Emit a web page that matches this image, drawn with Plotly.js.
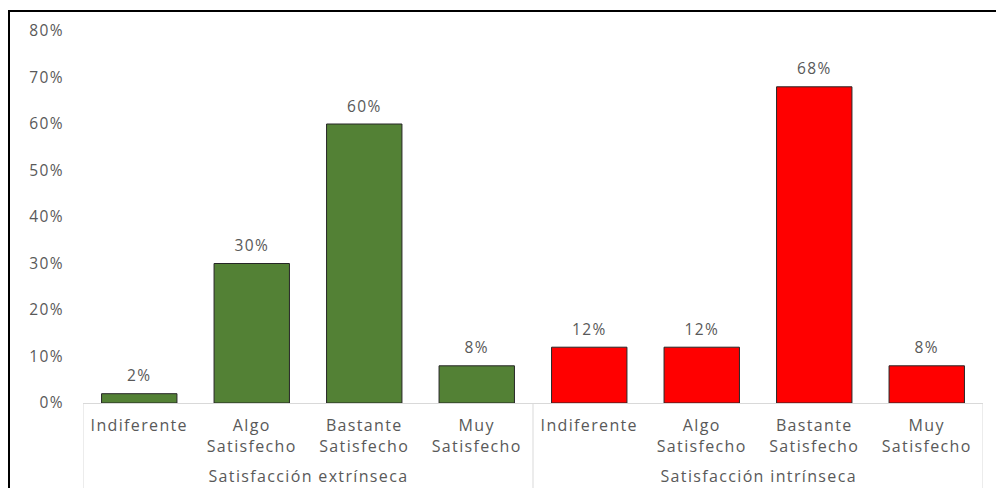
<!DOCTYPE html>
<html>
<head>
<meta charset="utf-8">
<script src="https://cdn.plot.ly/plotly-3.0.1.min.js"></script>
<style>
  html, body { margin: 0; padding: 0; background: #fff; }
  #wrap { position: relative; width: 996px; height: 488px; overflow: hidden; }
  #chart { position: absolute; left: 0; top: 0; width: 996px; height: 488px; }
  #frame { position: absolute; left: 8px; top: 10px; width: 1100px; height: 600px;
           border-left: 2px solid #000; border-top: 2px solid #000; pointer-events: none; }
  #chart svg text { letter-spacing: 1.35px; }
</style>
</head>
<body>
<div id="wrap">
  <div id="chart"></div>
  <div id="frame"></div>
</div>
<script>
const groups = ['Satisfacción extrínseca', 'Satisfacción intrínseca'];
const levels = ['Indiferente', 'Algo<br>Satisfecho', 'Bastante<br>Satisfecho', 'Muy<br>Satisfecho'];
const extrinseca = [0.02, 0.30, 0.60, 0.08];
const intrinseca = [0.12, 0.12, 0.68, 0.08];
const yTicks = [0, 0.1, 0.2, 0.3, 0.4, 0.5, 0.6, 0.7, 0.8];

const font = 'Open Sans, sans-serif';
const gray = '#595959';
const divColor = '#d9d9d9';

const series = [
  { vals: extrinseca, g: 0, color: '#538135' },
  { vals: intrinseca, g: 1, color: '#FF0000' }
];
const n = levels.length;
function xFor(g) { return levels.map((_, i) => g * n + i); }

const tickvals = [], ticktext = [];
groups.forEach((_, g) => levels.forEach((lv, i) => { tickvals.push(g * n + i); ticktext.push(lv); }));

const traces = [];
series.forEach(s => {
  traces.push({
    type: 'bar', x: xFor(s.g), y: s.vals,
    marker: { color: s.color, line: { color: '#262626', width: 1 } },
    hoverinfo: 'skip', showlegend: false
  });
});
series.forEach(s => {
  traces.push({
    type: 'scatter', mode: 'markers+text', x: xFor(s.g), y: s.vals,
    marker: { size: 12, opacity: 0 },
    texttemplate: '%{y:.0%}', textposition: 'top center',
    textfont: { family: font, size: 15.5, color: gray },
    cliponaxis: false, hoverinfo: 'skip', showlegend: false
  });
});

const annotations = groups.map((name, g) => ({
  text: name, x: g * n + (n - 1) / 2, xref: 'x', y: 0, yref: 'paper',
  yanchor: 'middle', xanchor: 'center', yshift: -73, showarrow: false,
  font: { family: font, size: 16, color: gray }
}));

const shapes = [];
for (let g = 0; g <= groups.length; g++) {
  shapes.push({
    type: 'line', xref: 'x', yref: 'paper',
    x0: g * n - 0.5, x1: g * n - 0.5, y0: 0, y1: -0.25,
    line: { color: divColor, width: 1 }
  });
}

const layout = {
  width: 996, height: 488,
  margin: { l: 83, r: 13, t: 31, b: 85 },
  paper_bgcolor: '#fff', plot_bgcolor: '#fff',
  barmode: 'overlay', bargap: 0.33,
  showlegend: false,
  font: { family: font, size: 16, color: gray },
  xaxis: {
    range: [-0.5, groups.length * n - 0.5],
    tickvals: tickvals, ticktext: ticktext,
    showline: true, linecolor: divColor, linewidth: 1,
    showgrid: false, zeroline: false,
    ticks: '', ticklabelstandoff: 8,
    tickfont: { family: font, size: 16, color: gray }
  },
  yaxis: {
    range: [0, 0.8], tickvals: yTicks, tickformat: '.0%',
    showgrid: false, zeroline: false, showline: false,
    ticks: 'outside', ticklen: 15, tickcolor: 'rgba(0,0,0,0)',
    tickfont: { family: font, size: 15.5, color: gray }
  },
  annotations: annotations,
  shapes: shapes
};

Plotly.newPlot('chart', traces, layout, { staticPlot: true, displayModeBar: false });
</script>
</body>
</html>
